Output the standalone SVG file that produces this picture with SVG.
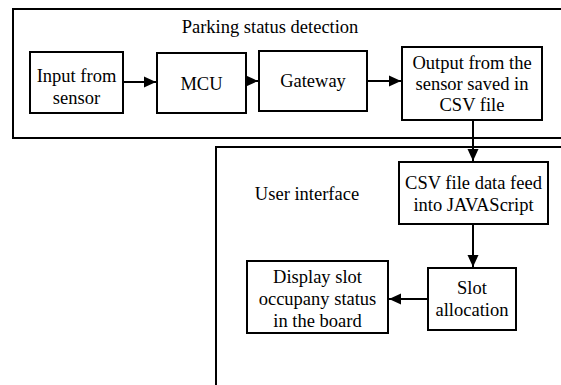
<svg xmlns="http://www.w3.org/2000/svg" width="561" height="385" viewBox="0 0 561 385">
<style>
.frame{fill:none;stroke:#000;stroke-width:2}
.box{fill:#fff;stroke:#000;stroke-width:2}
.t{font-family:'Liberation Serif','Times New Roman',serif;font-size:18.5px;fill:#000;text-anchor:middle}
.c{fill:none;stroke:#000;stroke-width:2}
</style>
<defs>
<marker id="ah" markerWidth="12" markerHeight="12" viewBox="0 0 12 12" refX="12" refY="6" orient="auto" markerUnits="userSpaceOnUse">
<path d="M0,0.5 L12,6 L0,11.5 Z" fill="#000"/>
</marker>
</defs>
<rect width="561" height="385" fill="#fff"/>
<g id="frame-parking">
<path class="frame" d="M570,9 H13 V138 H570"/>
<text class="t" font-family="Liberation Serif, serif" x="270" y="33">Parking status detection</text>
</g>
<g id="frame-ui">
<path class="frame" d="M570,147 H216 V400"/>
<text class="t" font-family="Liberation Serif, serif" x="307" y="200">User interface</text>
</g>
<g id="connectors">
<line class="c" x1="123" y1="82" x2="156" y2="82" marker-end="url(#ah)"/>
<line class="c" x1="246" y1="81" x2="258" y2="81" marker-end="url(#ah)"/>
<line class="c" x1="367" y1="81" x2="401" y2="81" marker-end="url(#ah)"/>
<line class="c" x1="473" y1="120" x2="473" y2="161" marker-end="url(#ah)"/>
<line class="c" x1="473" y1="224" x2="473" y2="267" marker-end="url(#ah)"/>
<line class="c" x1="428" y1="299" x2="389" y2="299" marker-end="url(#ah)"/>
</g>
<g id="input">
<rect class="box" x="30" y="52" width="93" height="61"/>
<text class="t" font-family="Liberation Serif, serif" x="76.5" y="82">Input from</text>
<text class="t" font-family="Liberation Serif, serif" x="76.5" y="104">sensor</text>
</g>
<g id="mcu">
<rect class="box" x="157" y="53" width="89" height="60"/>
<text class="t" font-family="Liberation Serif, serif" x="201.5" y="90">MCU</text>
</g>
<g id="gateway">
<rect class="box" x="259" y="51" width="108" height="60"/>
<text class="t" font-family="Liberation Serif, serif" x="313" y="87">Gateway</text>
</g>
<g id="output">
<rect class="box" x="402" y="47" width="140" height="73"/>
<text class="t" font-family="Liberation Serif, serif" x="472" y="69">Output from the</text>
<text class="t" font-family="Liberation Serif, serif" x="472" y="90">sensor saved in</text>
<text class="t" font-family="Liberation Serif, serif" x="472" y="111">CSV file</text>
</g>
<g id="csv">
<rect class="box" x="399" y="162" width="149" height="62"/>
<text class="t" font-family="Liberation Serif, serif" x="473.5" y="189">CSV file data feed</text>
<text class="t" font-family="Liberation Serif, serif" x="473.5" y="211">into JAVAScript</text>
</g>
<g id="slot">
<rect class="box" x="428" y="268" width="88" height="62"/>
<text class="t" font-family="Liberation Serif, serif" x="472" y="294">Slot</text>
<text class="t" font-family="Liberation Serif, serif" x="472" y="316">allocation</text>
</g>
<g id="display">
<rect class="box" x="247" y="261" width="141" height="72"/>
<text class="t" font-family="Liberation Serif, serif" x="317.5" y="283">Display slot</text>
<text class="t" font-family="Liberation Serif, serif" x="317.5" y="305">occupany status</text>
<text class="t" font-family="Liberation Serif, serif" x="317.5" y="327">in the board</text>
</g>
</svg>
